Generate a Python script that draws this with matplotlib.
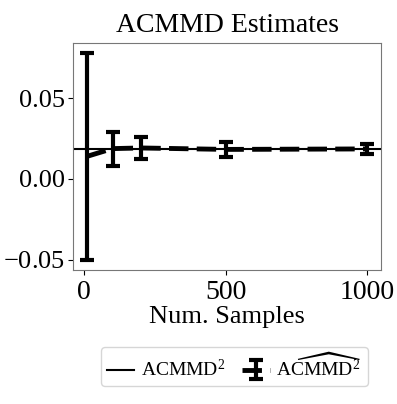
import matplotlib
matplotlib.use("Agg")
import matplotlib.pyplot as plt
import numpy as np

plt.rcParams['font.family'] = 'Liberation Serif'
plt.rcParams['mathtext.fontset'] = 'custom'
plt.rcParams['mathtext.rm'] = 'Liberation Serif'
plt.rcParams['mathtext.it'] = 'Liberation Serif:italic'

# data
num_samples = [10, 100, 200, 500, 1000]
estimates = [0.014, 0.0188, 0.0192, 0.0183, 0.0186]
errors = [0.064, 0.0106, 0.0067, 0.0045, 0.003]
true_value = 0.0187

fig = plt.figure(figsize=(3.97, 4.04), dpi=100)
ax = fig.add_axes([0.184, 0.332, 0.776, 0.562])

ax.axhline(true_value, color='black', linewidth=1.5, label=r'$\mathrm{ACMMD}^2$')
cont = ax.errorbar(num_samples, estimates, yerr=errors, color='black',
                   linestyle=(0, (4, 1.7)), linewidth=3.5, elinewidth=3,
                   capsize=5, capthick=3,
                   label=r'$\mathrm{A}\widehat{\mathrm{CMMD}}^2$')

ax.set_title('ACMMD Estimates', fontsize=20, pad=8)
ax.set_xlabel('Num. Samples', fontsize=19, labelpad=1)
ax.set_xticks([0, 500, 1000])
ax.set_yticks([-0.05, 0.0, 0.05])
ax.set_yticklabels([r'$-0.05$', '0.00', '0.05'])
ax.tick_params(axis='x', labelsize=20, colors='black')
ax.tick_params(axis='y', labelsize=19, colors='black', pad=2)
for s in ax.spines.values():
    s.set_color('#777777')

fig.legend(loc='center', bbox_to_anchor=(0.59, 0.093), ncol=2, fontsize=14,
           handlelength=1.4, columnspacing=0.9, handletextpad=0.35,
           borderpad=0.3, fancybox=True)

plt.savefig('out.png', dpi=100)
